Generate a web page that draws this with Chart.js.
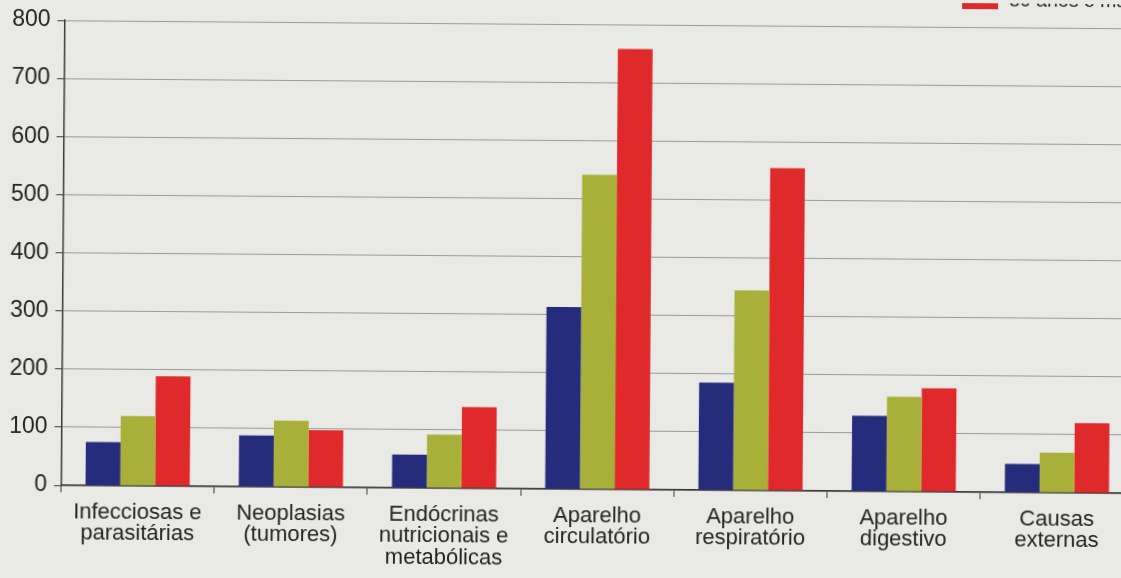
<!DOCTYPE html>
<html><head><meta charset="utf-8">
<script src="https://cdn.jsdelivr.net/npm/chart.js@4.4.1/dist/chart.umd.min.js"></script>
<style>
html,body{margin:0;padding:0;background:#e9e9e5;overflow:hidden;width:1121px;height:578px;}
#wrap{position:absolute;left:0;top:0;width:1150px;height:578px;transform:rotate(0.43deg);transform-origin:560px 289px;}
</style></head><body>
<div id="wrap"><canvas id="c" width="1150" height="578"></canvas></div>
<script>
const categories = [["Infecciosas e","parasitárias"],["Neoplasias","(tumores)"],["Endócrinas","nutricionais e","metabólicas"],["Aparelho","circulatório"],["Aparelho","respiratório"],["Aparelho","digestivo"],["Causas","externas"]];
const seriesLabels = ["60 a 69 anos","70 a 79 anos","80 anos e mais"];
const values60 = [75, 88, 57, 313, 185, 130, 49];
const values70 = [120, 114, 92, 541, 344, 163, 69];
const values80 = [189, 98, 140, 758, 555, 178, 120];
const yMin = 0, yMax = 800, yStep = 100;

const FONT = '"Liberation Sans", Arial, Helvetica, sans-serif';

const legendPlugin = {
  id: 'vlegend',
  afterDraw(chart) {
    const ctx = chart.ctx;
    ctx.save();
    ctx.font = '19.5px ' + FONT;
    ctx.textBaseline = 'alphabetic';
    const n = chart.data.datasets.length;
    chart.data.datasets.forEach((ds, i) => {
      const y = 6 - (n - 1 - i) * 28;
      ctx.fillStyle = ds.backgroundColor;
      ctx.fillRect(960, y - 18, 36, 18);
      ctx.fillStyle = '#222';
      ctx.fillText(ds.label, 1007, y - 3);
    });
    ctx.restore();
  }
};

new Chart(document.getElementById('c'), {
  type: 'bar',
  data: {
    labels: categories,
    datasets: [
      { label: seriesLabels[0], data: values60, backgroundColor: '#262c7c' },
      { label: seriesLabels[1], data: values70, backgroundColor: '#a9b03a' },
      { label: seriesLabels[2], data: values80, backgroundColor: '#e0292a' }
    ]
  },
  options: {
    responsive: false,
    animation: false,
    devicePixelRatio: 1,
    layout: { padding: { top: 24, right: 15, left: 0, bottom: 0 } },
    datasets: { bar: { barPercentage: 1.0, categoryPercentage: 0.68, borderWidth: 0 } },
    plugins: { legend: { display: false }, tooltip: { enabled: false }, title: { display: false } },
    scales: {
      x: {
        offset: true,
        grid: { display: true, drawOnChartArea: false, drawTicks: true, tickLength: 7, tickColor: '#3a3a3a', offset: true },
        border: { display: true, color: '#3a3a3a', width: 1.5 },
        ticks: { color: '#242424', font: { family: FONT, size: 22, lineHeight: 0.98 }, padding: 9, maxRotation: 0, autoSkip: false },
        afterFit: (s) => { s.height = 89; }
      },
      y: {
        min: yMin, max: yMax,
        ticks: { stepSize: yStep, color: '#242424', font: { family: FONT, size: 23 }, padding: 7 },
        grid: { color: '#9a9a9a', lineWidth: 1, tickLength: 7, tickColor: '#3a3a3a' },
        border: { display: true, color: '#3a3a3a', width: 1.5 },
        afterFit: (s) => { s.width = 62.5; }
      }
    }
  },
  plugins: [legendPlugin]
});
</script>
</body></html>
